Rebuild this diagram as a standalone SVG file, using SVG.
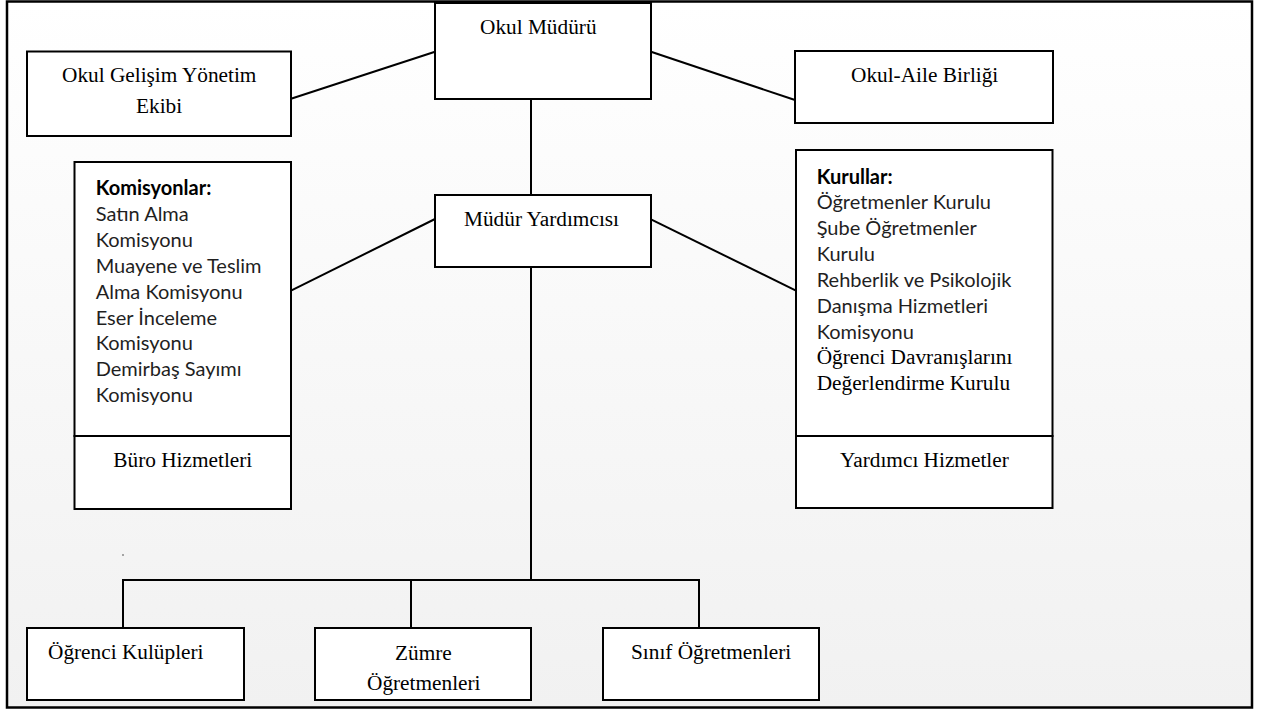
<svg xmlns="http://www.w3.org/2000/svg" width="1265" height="710" viewBox="0 0 1265 710">
  <defs>
    <linearGradient id="bg" x1="0" y1="0" x2="0" y2="1">
      <stop offset="0" stop-color="#ffffff"/>
      <stop offset="1" stop-color="#f1f1f1"/>
    </linearGradient>
    <style>
      .box { fill: #ffffff; stroke: #000000; stroke-width: 2; }
      .con { fill: none; stroke: #000000; stroke-width: 2; }
      .tr { font-family: "Liberation Serif", "Times New Roman", serif; font-size: 21.3px; fill: #000000; }
      .cl { font-family: Lato, "Noto Sans", sans-serif; font-size: 20px; fill: #1f1f1f; }
      .clb { font-family: Lato, "Noto Sans", sans-serif; font-size: 20px; font-weight: bold; fill: #000000; }
    </style>
  </defs>
  <rect x="0" y="0" width="1265" height="710" fill="#ffffff"/>
  <rect x="7" y="1.5" width="1245" height="706" fill="url(#bg)" stroke="#000000" stroke-width="2.5"/>

  <g id="connectors">
    <line class="con" x1="291" y1="98.7" x2="435" y2="51.7"/>
    <line class="con" x1="651" y1="51.7" x2="795" y2="100"/>
    <line class="con" x1="531" y1="99" x2="531" y2="195"/>
    <line class="con" x1="291" y1="290.7" x2="435" y2="219"/>
    <line class="con" x1="651" y1="219.3" x2="796" y2="290.7"/>
    <line class="con" x1="531" y1="267" x2="531" y2="580"/>
    <line class="con" x1="122" y1="580" x2="700" y2="580"/>
    <line class="con" x1="123" y1="579" x2="123" y2="628"/>
    <line class="con" x1="411" y1="579" x2="411" y2="628"/>
    <line class="con" x1="699" y1="579" x2="699" y2="628"/>
    <rect x="122.5" y="554" width="1" height="2" fill="#555555"/>
  </g>

  <g id="okul-muduru">
    <rect class="box" x="435" y="3" width="216" height="96"/>
    <text class="tr" x="480" y="33.5">Okul Müdürü</text>
  </g>

  <g id="okul-gelisim">
    <rect class="box" x="27" y="51.5" width="264" height="84.5"/>
    <text class="tr" x="62" y="82">Okul Gelişim Yönetim</text>
    <text class="tr" x="136" y="113">Ekibi</text>
  </g>

  <g id="okul-aile">
    <rect class="box" x="795" y="51" width="258" height="72"/>
    <text class="tr" x="851" y="81.5">Okul-Aile Birliği</text>
  </g>

  <g id="mudur-yardimcisi">
    <rect class="box" x="435" y="195" width="216" height="72"/>
    <text class="tr" x="464" y="225.5">Müdür Yardımcısı</text>
  </g>

  <g id="komisyonlar">
    <rect class="box" x="74.5" y="162" width="216.5" height="274"/>
    <text class="clb" x="95.7" y="195">Komisyonlar:</text>
    <text class="cl" x="95.7" y="220.9">Satın Alma</text>
    <text class="cl" x="95.7" y="246.8">Komisyonu</text>
    <text class="cl" x="95.7" y="272.7">Muayene ve Teslim</text>
    <text class="cl" x="95.7" y="298.6">Alma Komisyonu</text>
    <text class="cl" x="95.7" y="324.5">Eser İnceleme</text>
    <text class="cl" x="95.7" y="350.4">Komisyonu</text>
    <text class="cl" x="95.7" y="376.3">Demirbaş Sayımı</text>
    <text class="cl" x="95.7" y="402.2">Komisyonu</text>
  </g>

  <g id="buro-hizmetleri">
    <rect class="box" x="74.5" y="436" width="216.5" height="73"/>
    <text class="tr" x="113.3" y="467">Büro Hizmetleri</text>
  </g>

  <g id="kurullar">
    <rect class="box" x="796" y="150" width="256.5" height="286"/>
    <text class="clb" x="816.7" y="183.5">Kurullar:</text>
    <text class="cl" x="816.7" y="209.4">Öğretmenler Kurulu</text>
    <text class="cl" x="816.7" y="235.3">Şube Öğretmenler</text>
    <text class="cl" x="816.7" y="261.2">Kurulu</text>
    <text class="cl" x="816.7" y="287.1">Rehberlik ve Psikolojik</text>
    <text class="cl" x="816.7" y="313">Danışma Hizmetleri</text>
    <text class="cl" x="816.7" y="338.9">Komisyonu</text>
    <text class="tr" x="816.7" y="363.5">Öğrenci Davranışlarını</text>
    <text class="tr" x="816.7" y="390">Değerlendirme Kurulu</text>
  </g>

  <g id="yardimci-hizmetler">
    <rect class="box" x="796" y="436" width="256.5" height="72"/>
    <text class="tr" x="840" y="467">Yardımcı Hizmetler</text>
  </g>

  <g id="ogrenci-kulupleri">
    <rect class="box" x="27" y="628" width="217" height="72"/>
    <text class="tr" x="48" y="659">Öğrenci Kulüpleri</text>
  </g>

  <g id="zumre">
    <rect class="box" x="315" y="628" width="216" height="72"/>
    <text class="tr" x="395" y="660">Zümre</text>
    <text class="tr" x="367" y="690">Öğretmenleri</text>
  </g>

  <g id="sinif">
    <rect class="box" x="603" y="628" width="216" height="72"/>
    <text class="tr" x="631" y="659">Sınıf Öğretmenleri</text>
  </g>
</svg>
